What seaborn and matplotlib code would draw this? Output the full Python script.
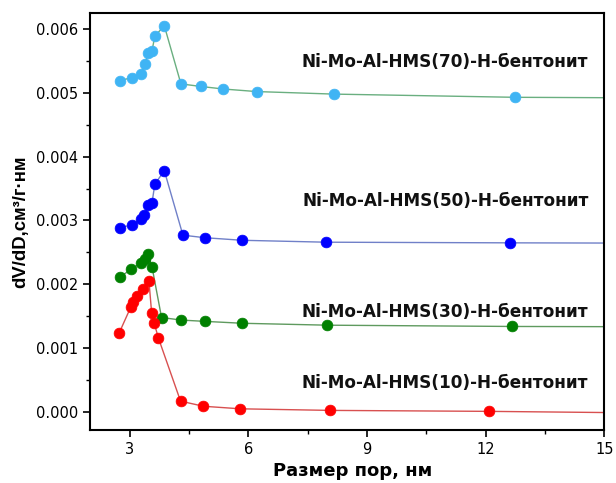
import matplotlib
matplotlib.use("Agg")
import matplotlib.pyplot as plt
import seaborn as sns
import pandas as pd
from matplotlib.ticker import MultipleLocator

sns.set_style("ticks")
plt.rcParams['font.family'] = ['DejaVu Sans']
plt.rcParams.update({"text.color": "black", "axes.labelcolor": "black",
                     "xtick.color": "black", "ytick.color": "black"})

# Series 70
x70 = [2.75, 3.07, 3.30, 3.39, 3.47, 3.57, 3.64, 3.88, 4.30, 4.80, 5.37, 6.21, 8.17, 12.74, 20.0]
y70 = [5.19e-3, 5.24e-3, 5.30e-3, 5.45e-3, 5.62e-3, 5.66e-3, 5.89e-3, 6.05e-3, 5.14e-3, 5.10e-3,
       5.06e-3, 5.02e-3, 4.98e-3, 4.93e-3, 4.91e-3]
# Series 50
x50 = [2.75, 3.07, 3.30, 3.37, 3.47, 3.57, 3.64, 3.88, 4.35, 4.91, 5.85, 7.97, 12.62, 20.0]
y50 = [2.89e-3, 2.93e-3, 3.03e-3, 3.08e-3, 3.24e-3, 3.28e-3, 3.57e-3, 3.78e-3, 2.77e-3, 2.73e-3,
       2.69e-3, 2.66e-3, 2.65e-3, 2.64e-3]
# Series 30
x30 = [2.75, 3.05, 3.30, 3.39, 3.47, 3.57, 3.81, 4.31, 4.90, 5.85, 8.00, 12.67, 20.0]
y30 = [2.11e-3, 2.24e-3, 2.34e-3, 2.40e-3, 2.47e-3, 2.27e-3, 1.48e-3, 1.44e-3, 1.42e-3, 1.39e-3,
       1.36e-3, 1.34e-3, 1.33e-3]
# Series 10
x10 = [2.74, 3.03, 3.09, 3.18, 3.33, 3.49, 3.56, 3.62, 3.73, 4.29, 4.87, 5.80, 8.08, 12.08, 20.0]
y10 = [1.24e-3, 1.64e-3, 1.73e-3, 1.81e-3, 1.92e-3, 2.06e-3, 1.55e-3, 1.40e-3, 1.16e-3, 0.17e-3,
       0.09e-3, 0.05e-3, 0.025e-3, 0.01e-3, -0.04e-3]

labels = ["Ni-Mo-Al-HMS(70)-H-бентонит", "Ni-Mo-Al-HMS(50)-H-бентонит",
          "Ni-Mo-Al-HMS(30)-H-бентонит", "Ni-Mo-Al-HMS(10)-H-бентонит"]
label_y = [5.48e-3, 3.30e-3, 1.57e-3, 0.45e-3]

series = [
    (x70, y70, "#3fb4f4", "#6aaf80"),
    (x50, y50, "#0000ff", "#7080c8"),
    (x30, y30, "#008000", "#5f9a5f"),
    (x10, y10, "#ff0000", "#d85050"),
]

fig = plt.figure(figsize=(6.16, 4.83), dpi=100)
ax = fig.add_axes([0.146, 0.110, 0.835, 0.863])

for xs, ys, mc, lc in series:
    df = pd.DataFrame({"x": xs, "y": ys})
    sns.lineplot(data=df, x="x", y="y", sort=False, color=lc, linewidth=1.0, ax=ax)
    sns.scatterplot(data=df, x="x", y="y", color=mc, s=60, edgecolor=mc, linewidth=0.5, ax=ax, zorder=3)

for lab, ly in zip(labels, label_y):
    ax.text(14.6, ly, lab, ha="right", va="center", fontsize=12.2, fontweight="bold", color="#111111")

ax.set_xlim(2, 15)
ax.set_ylim(-0.00028, 0.00625)
ax.xaxis.set_major_locator(MultipleLocator(3))
ax.xaxis.set_minor_locator(MultipleLocator(1.5))
ax.yaxis.set_major_locator(MultipleLocator(0.001))
ax.yaxis.set_minor_locator(MultipleLocator(0.0005))
ax.yaxis.set_major_formatter(matplotlib.ticker.FormatStrFormatter('%.3f'))
ax.tick_params(which="major", length=5, width=1.2, labelsize=10.5, direction="out")
ax.tick_params(which="minor", length=3, width=1.0, direction="out")
for s in ax.spines.values():
    s.set_visible(True)
    s.set_linewidth(1.5)
    s.set_color("black")

ax.set_xlabel("Размер пор, нм", fontsize=13, fontweight="bold", labelpad=1)
ax.xaxis.set_label_coords(0.51, -0.077)
ax.set_ylabel("dV/dD,см³/г·нм", fontsize=13.3, fontweight="bold", labelpad=5,
              family=["Liberation Sans", "DejaVu Sans"])

fig.savefig("out.png", dpi=100)
